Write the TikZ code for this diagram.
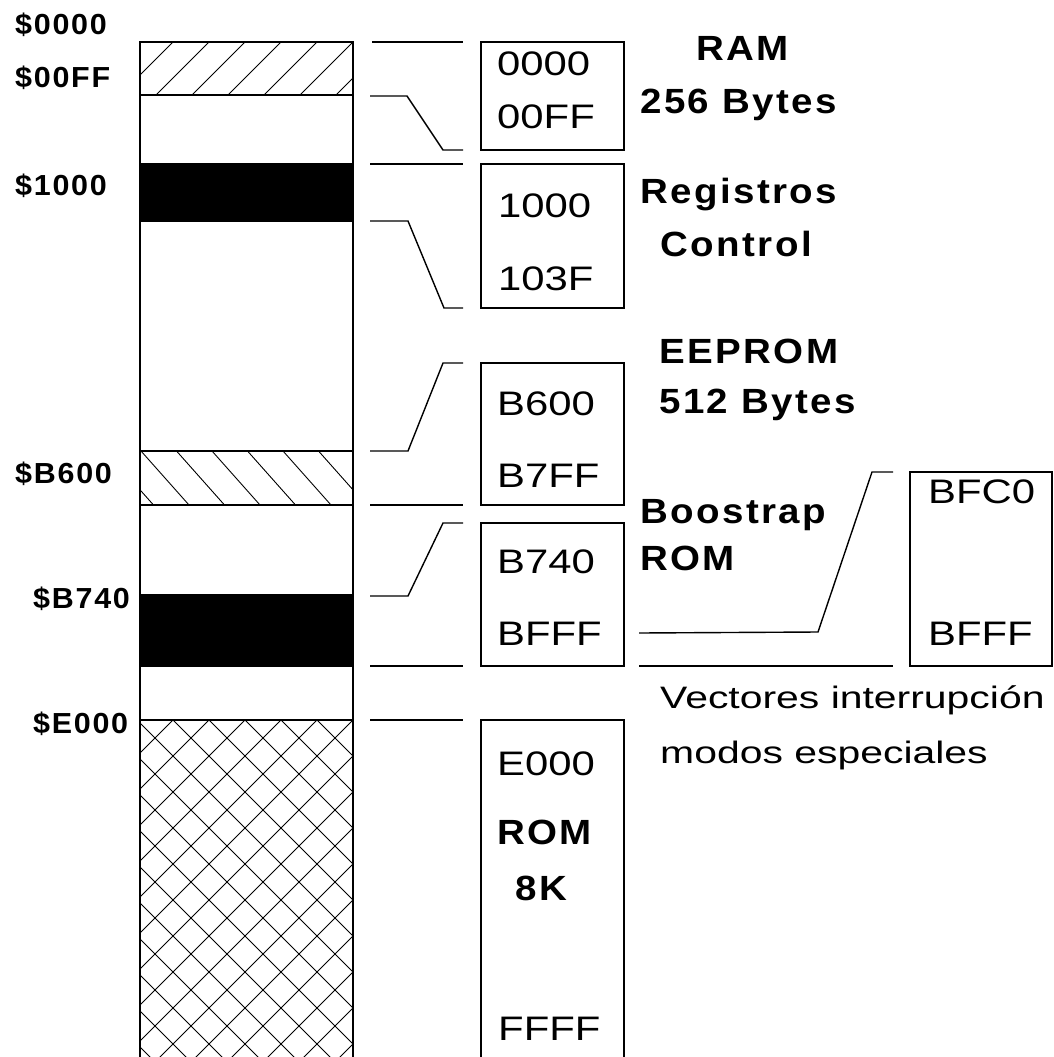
\documentclass[tikz,border=0pt]{standalone}
\usepackage{fontspec}
\setmainfont{Liberation Sans}
\newfontfamily\addrfont[FakeStretch=1.23]{Liberation Sans}
\newfontfamily\tagfont[FakeStretch=1.1,LetterSpace=7]{Liberation Sans}
\newfontfamily\sidefont[FakeStretch=1.05,LetterSpace=6]{Liberation Sans}
\newfontfamily\notefont[FakeStretch=1.32]{Liberation Sans}
\usetikzlibrary{calc}

\tikzset{
  memline/.style={line width=1.6},
  hatch/.style={line width=0.9},
  conn/.style={line width=1.4},
  memBox/.style={draw, line width=1.4, inner sep=0, outer sep=0, anchor=north west, minimum width=143},
  addr/.style={anchor=base west, inner sep=0, font=\addrfont\fontsize{34}{37}\selectfont},
  tag/.style={anchor=base west, inner sep=0, font=\tagfont\bfseries\fontsize{35}{38}\selectfont},
  side/.style={anchor=base west, inner sep=0, font=\sidefont\bfseries\fontsize{29}{32}\selectfont},
  note/.style={anchor=base west, inner sep=0, font=\notefont\fontsize{31}{34}\selectfont},
}

\begin{document}
\begin{tikzpicture}[x=1pt, y=-1pt]
  \useasboundingbox (0,0) rectangle (1053,1057);
  \begin{scope}
  \clip (0,0) rectangle (1053,1057);

  % memory column: hatched, black and cross-hatched bands
  \begin{scope}
    \clip (140,42) rectangle (353,95);
    \foreach \c in {179,215,...,467} \draw[hatch] (\c-42,42) -- (\c-95,95);
  \end{scope}
  \begin{scope}
    \clip (140,451) rectangle (353,505);
    \foreach \k in {-2,...,7} \draw[hatch] (141+35.5*\k,451) -- (189+35.5*\k,505);
  \end{scope}
  \begin{scope}
    \clip (140,720) rectangle (353,1060);
    \foreach \k in {-10,...,15} {
      \draw[hatch] (173+36*\k,720) -- (-167+36*\k,1060);
      \draw[hatch] (173+36*\k,720) -- (513+36*\k,1060);
    }
  \end{scope}
  \fill (140,164) rectangle (353,221);
  \fill (140,595) rectangle (353,666);
  \draw[memline] (140,1060) -- (140,42) -- (353,42) -- (353,1060);
  \foreach \y in {95,164,221,451,505,595,666,720} \draw[memline] (140,\y) -- (353,\y);

  % start addresses
  \node[side] (s0000) at (15,35)  {\$0000};
  \node[side] (s00FF) at (15,88)  {\$00FF};
  \node[side] (s1000) at (15,195) {\$1000};
  \node[side] (sB600) at (15,483) {\$B600};
  \node[side] (sB740) at (33,608) {\$B740};
  \node[side] (sE000) at (33,733) {\$E000};

  % address boxes
  \node[memBox, minimum height=108] (ramBox)  at (481,42)  {};
  \node[memBox, minimum height=144] (regBox)  at (481,164) {};
  \node[memBox, minimum height=142] (eepBox)  at (481,363) {};
  \node[memBox, minimum height=143] (bootBox) at (481,523) {};
  \node[memBox, minimum height=350] (romBox)  at (481,720) {};
  \node[memBox, minimum width=142, minimum height=194] (vecBox) at (910,472) {};

  \node[addr] (a0000) at (497,75)   {0000};
  \node[addr] (a00FF) at (497,128)  {00FF};
  \node[addr] (a1000) at (498,217)  {1000};
  \node[addr] (a103F) at (498,290)  {103F};
  \node[addr] (aB600) at (497,415)  {B600};
  \node[addr] (aB7FF) at (497,487)  {B7FF};
  \node[addr] (aB740) at (497,573)  {B740};
  \node[addr] (aBFFF) at (497,645)  {BFFF};
  \node[addr] (aE000) at (497,775)  {E000};
  \node[tag]  (tRom8) at (497,844)  {ROM};
  \node[tag]  (t8K)   at (515,900)  {8K};
  \node[addr] (aFFFF) at (498,1040) {FFFF};
  \node[addr] (aBFC0) at (928,503)  {BFC0};
  \node[addr] (aBFFFv) at (928,645) {BFFF};

  % connectors
  \draw[conn] (372,42) -- ([xshift=-18]ramBox.north west);
  \draw[conn] (370,96) -- (407,96) -- (443,150) -- ([xshift=-18]ramBox.south west);
  \draw[conn] (370,164) -- ([xshift=-18]regBox.north west);
  \draw[conn] (370,221) -- (408,221) -- (444,308) -- ([xshift=-18]regBox.south west);
  \draw[conn] (370,451) -- (408,451) -- (443,363) -- ([xshift=-18]eepBox.north west);
  \draw[conn] (370,505) -- ([xshift=-18]eepBox.south west);
  \draw[conn] (370,596) -- (408,596) -- (443,523) -- ([xshift=-18]bootBox.north west);
  \draw[conn] (370,666) -- ([xshift=-18]bootBox.south west);
  \draw[conn] (370,720) -- ([xshift=-18]romBox.north west);
  \draw[conn] (639,633) -- (818,632) -- (872,472) -- ([xshift=-17]vecBox.north west);
  \draw[conn] (639,666) -- ([xshift=-17]vecBox.south west);

  % region names
  \node[tag] (tRam)   at (696,60)  {RAM};
  \node[tag] (tRamSz) at (640,113) {256 Bytes};
  \node[tag] (tReg)   at (640,203) {Registros};
  \node[tag] (tCtl)   at (660,256) {Control};
  \node[tag] (tEep)   at (659,363) {EEPROM};
  \node[tag] (tEepSz) at (659,413) {512 Bytes};
  \node[tag] (tBoot)  at (640,523) {Boostrap};
  \node[tag] (tBRom)  at (640,570) {ROM};
  \node[note] (nVec)  at (660,708) {Vectores interrupción};
  \node[note] (nMod)  at (660,763) {modos especiales};
  \end{scope}
\end{tikzpicture}
\end{document}
